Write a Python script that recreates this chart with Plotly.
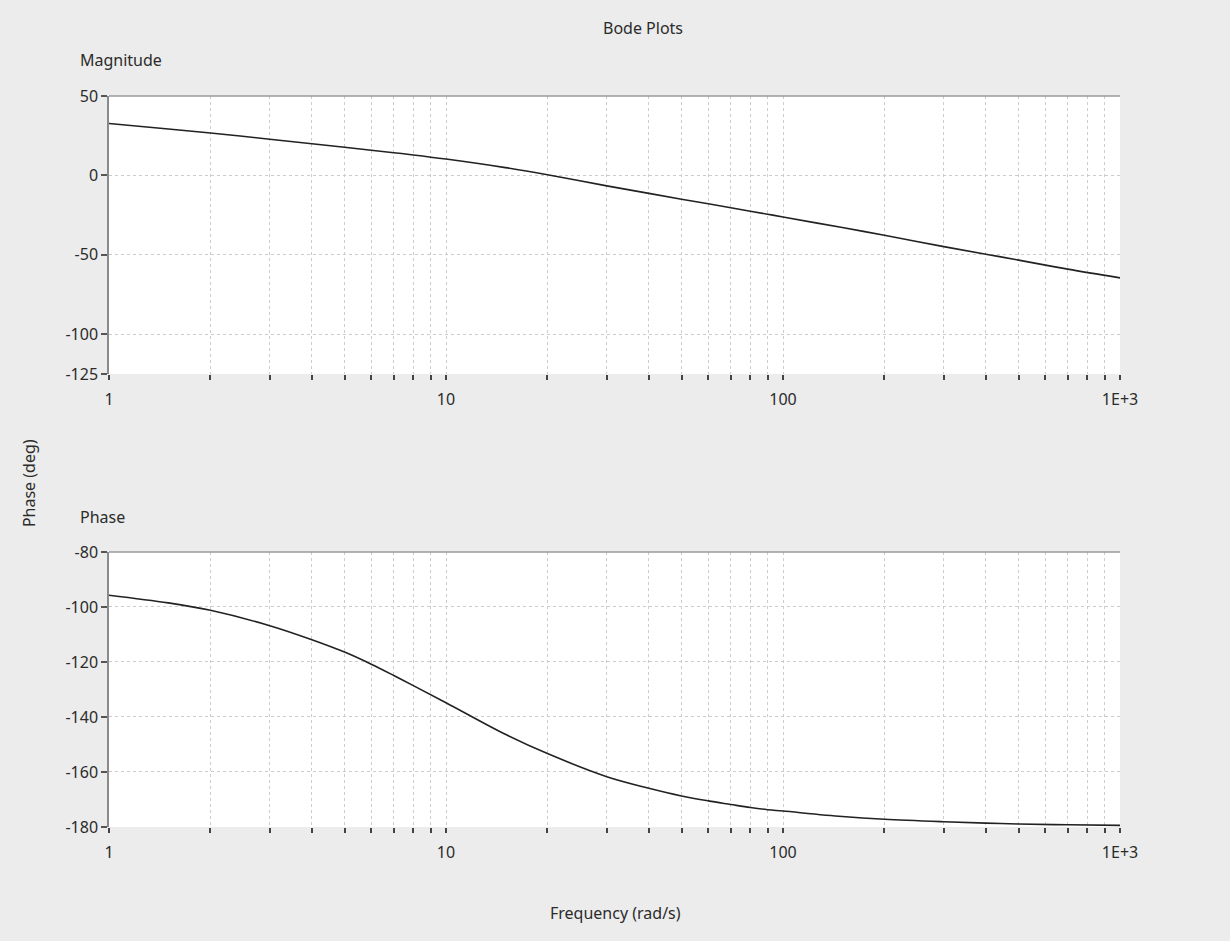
import plotly.graph_objects as go

# ---- data ----
freq = [1, 1.5, 2, 3, 4, 5, 6, 7, 8, 10, 15, 20, 30, 40, 50, 60, 70, 80, 90,
        100, 150, 200, 300, 400, 500, 700, 1000]
magnitude_db = [32.7, 29.2, 26.7, 22.8, 19.9, 17.7, 15.8, 14.3, 12.9, 10.3, 4.9, 0.4,
                -6.6, -11.3, -15.0, -17.8, -20.3, -22.5, -24.4, -26.2, -32.8, -37.7,
                -44.8, -49.6, -53.3, -59.0, -64.5]
phase_deg = [-95.7, -98.5, -101.2, -106.8, -111.9, -116.4, -120.8, -124.9, -128.6,
             -134.8, -146.3, -153.3, -161.7, -165.9, -168.7, -170.5, -171.8, -172.9,
             -173.7, -174.2, -176.2, -177.2, -178.1, -178.6, -178.9, -179.2, -179.4]

x_tick_vals = [1, 2, 3, 4, 5, 6, 7, 8, 9,
               10, 20, 30, 40, 50, 60, 70, 80, 90,
               100, 200, 300, 400, 500, 600, 700, 800, 900, 1000]
x_tick_text = ["1", "", "", "", "", "", "", "", "",
               "10", "", "", "", "", "", "", "", "",
               "100", "", "", "", "", "", "", "", "", "1E+3"]
mag_ticks = [50, 0, -50, -100, -125]
phase_ticks = [-80, -100, -120, -140, -160, -180]

FONT = "Noto Sans"
TXT = "#2b2b2b"
GRID = "#cccccc"

fig = go.Figure()
fig.add_trace(go.Scatter(x=freq, y=magnitude_db, mode="lines",
                         line=dict(color="#222222", width=1.6, shape="spline", smoothing=1.0),
                         xaxis="x", yaxis="y", showlegend=False))
fig.add_trace(go.Scatter(x=freq, y=phase_deg, mode="lines",
                         line=dict(color="#222222", width=1.6, shape="spline", smoothing=1.0),
                         xaxis="x2", yaxis="y2", showlegend=False))

xcommon = dict(type="log", range=[0, 3], tickvals=x_tick_vals, ticktext=x_tick_text,
               ticks="outside", ticklen=5, tickwidth=1.5, tickcolor="#444444",
               ticklabelstandoff=6,
               showgrid=True, gridcolor=GRID, griddash="dot", gridwidth=1,
               showline=False, zeroline=False,
               tickfont=dict(family=FONT, size=16, color=TXT))
ycommon = dict(ticks="outside", ticklen=6, tickwidth=1.5, tickcolor="#555555",
               showgrid=True, gridcolor=GRID, griddash="dot", gridwidth=1,
               showline=True, linecolor="#8a8a8a", linewidth=1.5, zeroline=False,
               tickfont=dict(family=FONT, size=16, color=TXT))

top_dom = [0.6197, 1.0]
bot_dom = [0.0, 0.3762]

fig.update_layout(
    width=1230, height=941,
    margin=dict(l=109, r=110, t=96, b=114),
    paper_bgcolor="#ececec", plot_bgcolor="#ffffff",
    font=dict(family=FONT, color=TXT),
    xaxis=dict(anchor="y", **xcommon),
    yaxis=dict(domain=top_dom, anchor="x", range=[-125, 50], tickvals=mag_ticks,
               ticktext=[str(v) for v in mag_ticks], **ycommon),
    xaxis2=dict(anchor="y2", **xcommon),
    yaxis2=dict(domain=bot_dom, anchor="x2", range=[-180, -80], tickvals=phase_ticks,
                ticktext=[str(v) for v in phase_ticks], **ycommon),
)

# top frame lines of both plots
for yref in ["y domain", "y2 domain"]:
    xr = "x domain" if yref == "y domain" else "x2 domain"
    fig.add_shape(type="line", xref=xr, yref=yref, x0=0, x1=1, y0=1, y1=1,
                  line=dict(color="#9a9a9a", width=1.5))

ann = [
    dict(text="Bode Plots", x=0.528, y=1.093, xanchor="center", yanchor="middle", size=16),
    dict(text="Magnitude", x=-0.0307, y=1.049, xanchor="left", yanchor="middle", size=16),
    dict(text="Phase", x=-0.0307, y=0.424, xanchor="left", yanchor="middle", size=16),
    dict(text="Frequency (rad/s)", x=0.5005, y=-0.1176, xanchor="center", yanchor="middle", size=16),
]
for a in ann:
    fig.add_annotation(text=a["text"], x=a["x"], y=a["y"], xref="paper", yref="paper",
                       xanchor=a["xanchor"], yanchor=a["yanchor"], showarrow=False,
                       font=dict(family=FONT, size=a["size"], color=TXT))
fig.add_annotation(text="Phase (deg)", x=-0.079, y=0.4706, xref="paper", yref="paper",
                   textangle=-90, showarrow=False, xanchor="center", yanchor="middle",
                   font=dict(family=FONT, size=16, color=TXT))

fig.write_html("out.html", config={"displayModeBar": False},
               post_script="document.body.style.margin='0px';document.body.style.background='#ececec';")
